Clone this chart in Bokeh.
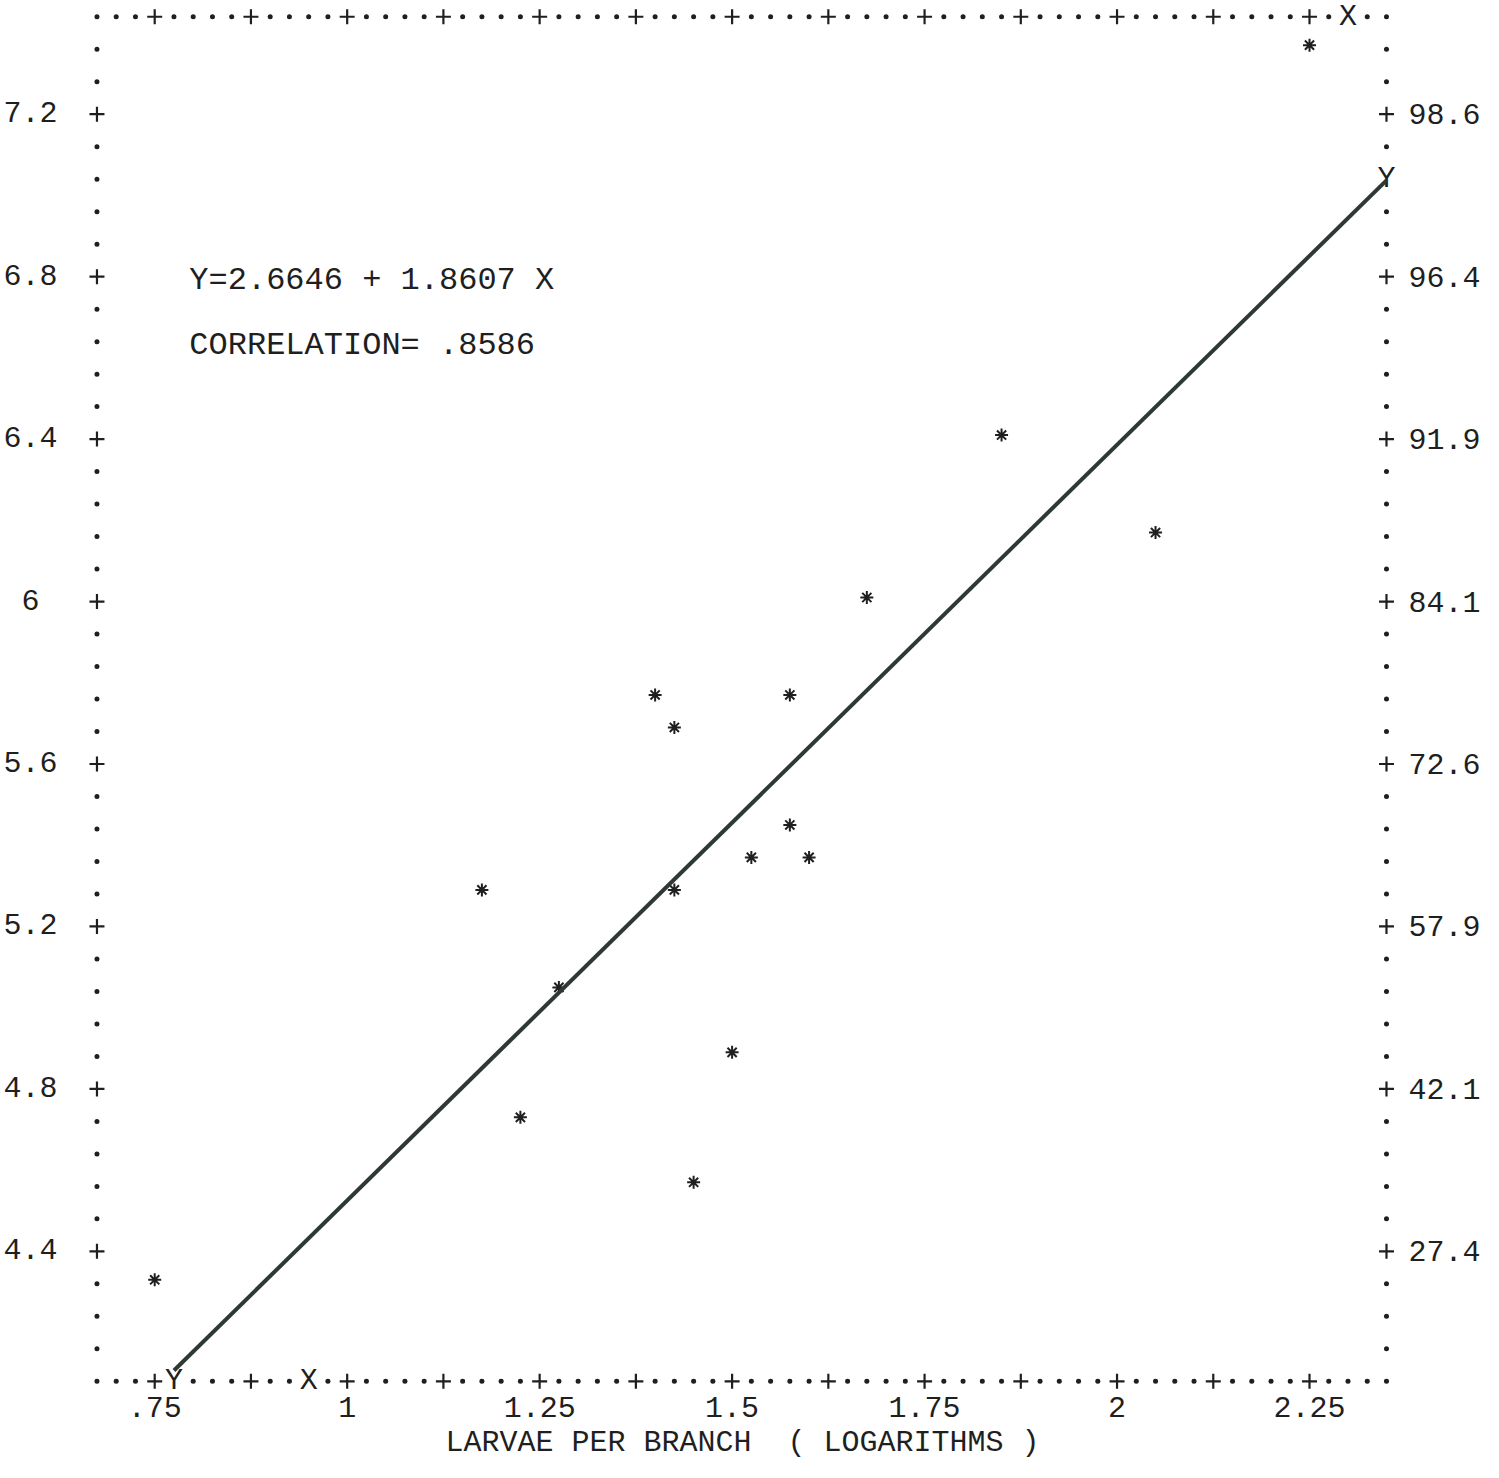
import numpy as np
from bokeh.plotting import figure
from bokeh.models import Range1d, FixedTicker, LinearAxis, Label
from bokeh.core.properties import value
from bokeh.embed import file_html
from bokeh.resources import INLINE

# ---------------- data ----------------
LARVAE_LOG = [2.25, 1.85, 2.05, 1.675, 1.40, 1.575, 1.425, 1.575, 1.525,
              1.60, 1.175, 1.425, 1.275, 1.50, 1.225, 1.45, 0.75]
PROBIT = [7.37, 6.41, 6.17, 6.01, 5.77, 5.77, 5.69, 5.45, 5.37,
          5.37, 5.29, 5.29, 5.05, 4.89, 4.73, 4.57, 4.33]
INTERCEPT = 2.6646
SLOPE = 1.8607
CORRELATION = 0.8586
FIT_X = [0.775, 2.35]

X_TICKS = [0.75, 1.0, 1.25, 1.5, 1.75, 2.0, 2.25]
X_TICK_LABELS = [".75", "1", "1.25", "1.5", "1.75", "2", "2.25"]
Y_TICKS = [4.4, 4.8, 5.2, 5.6, 6.0, 6.4, 6.8, 7.2]
Y_TICK_LABELS = ["4.4", "4.8", "5.2", "5.6", "6\u00a0", "6.4", "6.8", "7.2"]
PCT_TICK_LABELS = ["27.4", "42.1", "57.9", "72.6", "84.1", "91.9", "96.4", "98.6"]
X_LABEL = "LARVAE PER BRANCH\u00a0 ( LOGARITHMS )"
EQ_TEXT = "Y=%.4f + %.4f X" % (INTERCEPT, SLOPE)
CORR_TEXT = "CORRELATION= %s" % ("%.4f" % CORRELATION).lstrip("0")

# line-printer frame: character grid
COL_STEP = 0.025
ROW_STEP = 0.08
PLUS_STEP_X = 0.125
X_BORDER = (0.675, 2.35)
Y_BORDER = (4.08, 7.44)
BORDER_LETTERS = [("Y", 0.775, 4.08), ("X", 0.95, 4.08),
                  ("X", 2.30, 7.44), ("Y", 2.35, 7.04)]

INK = "#1f1f1f"
FONT = "Liberation Mono"

# ---------------- figure ----------------
p = figure(width=1483, height=1462, output_backend="svg", toolbar_location=None,
           title=None, x_range=Range1d(0.664, 2.363), y_range=Range1d(4.05, 7.48),
           min_border_left=86, min_border_right=85, min_border_top=0,
           min_border_bottom=0)
p.xgrid.visible = False
p.ygrid.visible = False
p.outline_line_color = None
p.background_fill_color = "white"


def style_axis(ax, standoff):
    ax.axis_line_color = None
    ax.major_tick_line_color = None
    ax.minor_tick_line_color = None
    ax.major_tick_in = 0
    ax.major_tick_out = 0
    ax.minor_tick_in = 0
    ax.minor_tick_out = 0
    ax.major_label_standoff = standoff
    ax.major_label_text_font = FONT
    ax.major_label_text_font_size = "30px"
    ax.major_label_text_color = INK


xa = p.xaxis[0]
style_axis(xa, 3)
xa.ticker = FixedTicker(ticks=X_TICKS)
xa.major_label_overrides = dict(zip(X_TICKS, X_TICK_LABELS))
xa.axis_label = X_LABEL
xa.axis_label_standoff = 6
xa.axis_label_text_font = FONT
xa.axis_label_text_font_size = "30px"
xa.axis_label_text_font_style = "normal"
xa.axis_label_text_color = INK

ya = p.yaxis[0]
style_axis(ya, 31)
ya.ticker = FixedTicker(ticks=Y_TICKS)
ya.major_label_overrides = dict(zip(Y_TICKS, Y_TICK_LABELS))

ra = LinearAxis(ticker=FixedTicker(ticks=Y_TICKS),
                major_label_overrides=dict(zip(Y_TICKS, PCT_TICK_LABELS)))
style_axis(ra, 12)
p.add_layout(ra, "right")

# ---------------- printer frame (dots, pluses, letters) ----------------
cols = np.round(np.arange(X_BORDER[0], X_BORDER[1] + 1e-9, COL_STEP), 3)
rows = np.round(np.arange(Y_BORDER[0], Y_BORDER[1] + 1e-9, ROW_STEP), 3)
plus_cols = set(np.round(np.arange(X_TICKS[0], X_TICKS[-1] + 1e-9, PLUS_STEP_X), 3))
plus_rows = set(np.round(Y_TICKS, 3))
letter_cells = {(round(x, 3), round(y, 3)) for _, x, y in BORDER_LETTERS}

dot_x, dot_y, plus_x, plus_y = [], [], [], []
for yy in (rows[0], rows[-1]):
    for xx in cols:
        if (xx, yy) in letter_cells:
            continue
        if xx in plus_cols:
            plus_x.append(xx); plus_y.append(yy)
        else:
            dot_x.append(xx); dot_y.append(yy)
for xx in (cols[0], cols[-1]):
    for yy in rows[1:-1]:
        if (xx, yy) in letter_cells:
            continue
        if yy in plus_rows:
            plus_x.append(xx); plus_y.append(yy)
        else:
            dot_x.append(xx); dot_y.append(yy)

p.scatter(dot_x, dot_y, marker="circle", size=5, fill_color=INK, line_color=None)
p.scatter(plus_x, plus_y, marker="cross", size=15, line_color=INK, line_width=2.2)
p.text(x=[b[1] for b in BORDER_LETTERS], y=[b[2] for b in BORDER_LETTERS],
       text=[b[0] for b in BORDER_LETTERS], text_font=value(FONT),
       text_font_size="30px", text_align="center", text_baseline="middle",
       text_color=INK)

# ---------------- data points and fitted line ----------------
p.scatter(LARVAE_LOG, PROBIT, marker="asterisk", size=13, line_color=INK, line_width=2)
p.line(FIT_X, [INTERCEPT + SLOPE * x for x in FIT_X], line_color="#2f3934", line_width=4)

for txt, yy in ((EQ_TEXT, 6.79), (CORR_TEXT, 6.63)):
    p.add_layout(Label(x=0.795, y=yy, text=txt, text_font=FONT, text_font_size="32px",
                       text_baseline="middle", text_align="left", text_color=INK))

open("out.html", "w").write(file_html(p, INLINE))
